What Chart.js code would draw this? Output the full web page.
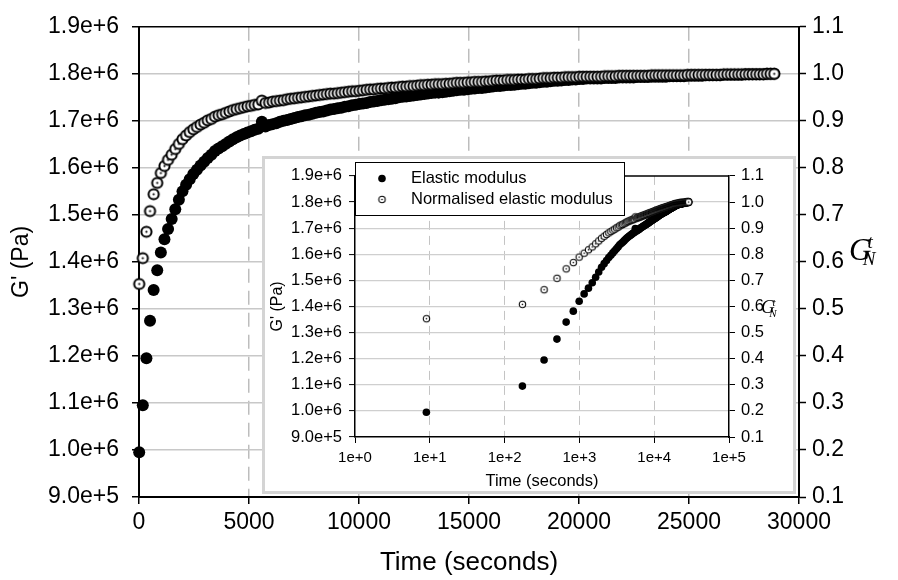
<!DOCTYPE html>
<html>
<head>
<meta charset="utf-8">
<script src="https://cdn.jsdelivr.net/npm/chart.js@4.4.1/dist/chart.umd.min.js"></script>
<style>
  body { margin: 0; background: #fff; }
  #wrap { position: relative; width: 898px; height: 580px; }
  #mainChart { position: absolute; left: 0; top: 0; }
  #insetBox { position: absolute; left: 262px; top: 156px; width: 528px; height: 332px;
              border: 3px solid #d4d4d4; background: #fff; }
  #insetChart { display: block; }
</style>
</head>
<body>
<div id="wrap">
  <canvas id="mainChart" width="898" height="580"></canvas>
  <div id="insetBox"><canvas id="insetChart" width="528" height="332"></canvas></div>
</div>
<script>
// Time of each measurement (seconds)
const timeSec = [
  9, 173, 337, 501, 665, 829, 993, 1157, 1321, 1485,
  1649, 1813, 1977, 2141, 2305, 2469, 2633, 2797, 2961, 3125,
  3289, 3453, 3617, 3781, 3945, 4109, 4273, 4437, 4601, 4765,
  4929, 5093, 5257, 5421, 5585, 5749, 5913, 6077, 6241, 6405,
  6569, 6733, 6897, 7061, 7225, 7389, 7553, 7717, 7881, 8045,
  8209, 8373, 8537, 8701, 8865, 9029, 9193, 9357, 9521, 9685,
  9849, 10013, 10177, 10341, 10505, 10669, 10833, 10997, 11161, 11325,
  11489, 11653, 11817, 11981, 12145, 12309, 12473, 12637, 12801, 12965,
  13129, 13293, 13457, 13621, 13785, 13949, 14113, 14277, 14441, 14605,
  14769, 14933, 15097, 15261, 15425, 15589, 15753, 15917, 16081, 16245,
  16409, 16573, 16737, 16901, 17065, 17229, 17393, 17557, 17721, 17885,
  18049, 18213, 18377, 18541, 18705, 18869, 19033, 19197, 19361, 19525,
  19689, 19853, 20017, 20181, 20345, 20509, 20673, 20837, 21001, 21165,
  21329, 21493, 21657, 21821, 21985, 22149, 22313, 22477, 22641, 22805,
  22969, 23133, 23297, 23461, 23625, 23789, 23953, 24117, 24281, 24445,
  24609, 24773, 24937, 25101, 25265, 25429, 25593, 25757, 25921, 26085,
  26249, 26413, 26577, 26741, 26905, 27069, 27233, 27397, 27561, 27725,
  27889, 28053, 28217, 28381, 28545, 28709, 28873
];

// G' in units of 1e6 Pa
const elasticMPa = [
  0.995, 1.095, 1.195, 1.275, 1.340, 1.382, 1.420, 1.448, 1.470, 1.491,
  1.512, 1.532, 1.550, 1.564, 1.576, 1.587, 1.596, 1.605, 1.613, 1.621,
  1.628, 1.636, 1.641, 1.646, 1.651, 1.656, 1.661, 1.665, 1.669, 1.672,
  1.675, 1.678, 1.681, 1.683, 1.698, 1.688, 1.691, 1.693, 1.695, 1.698,
  1.700, 1.702, 1.704, 1.706, 1.708, 1.710, 1.712, 1.713, 1.715, 1.717,
  1.719, 1.720, 1.722, 1.724, 1.725, 1.727, 1.728, 1.730, 1.731, 1.733,
  1.734, 1.736, 1.737, 1.738, 1.740, 1.741, 1.742, 1.744, 1.745, 1.746,
  1.747, 1.748, 1.750, 1.751, 1.752, 1.753, 1.754, 1.755, 1.756, 1.757,
  1.758, 1.759, 1.760, 1.760, 1.761, 1.762, 1.763, 1.764, 1.765, 1.766,
  1.766, 1.767, 1.768, 1.769, 1.770, 1.770, 1.771, 1.772, 1.773, 1.774,
  1.774, 1.775, 1.776, 1.776, 1.777, 1.778, 1.779, 1.779, 1.780, 1.781,
  1.781, 1.782, 1.783, 1.783, 1.784, 1.785, 1.785, 1.786, 1.787, 1.787,
  1.788, 1.788, 1.789, 1.789, 1.790, 1.790, 1.790, 1.790, 1.790, 1.791,
  1.791, 1.791, 1.791, 1.792, 1.792, 1.792, 1.792, 1.792, 1.793, 1.793,
  1.793, 1.793, 1.794, 1.794, 1.794, 1.794, 1.794, 1.795, 1.795, 1.795,
  1.795, 1.795, 1.796, 1.796, 1.796, 1.796, 1.796, 1.797, 1.797, 1.797,
  1.797, 1.797, 1.798, 1.798, 1.798, 1.798, 1.798, 1.798, 1.799, 1.799,
  1.799, 1.799, 1.799, 1.799, 1.800, 1.800, 1.800
];

// G'/G'final (right axis)
const normalised = [
  0.553, 0.608, 0.664, 0.708, 0.744, 0.768, 0.789, 0.804, 0.817, 0.828,
  0.840, 0.851, 0.861, 0.869, 0.876, 0.882, 0.887, 0.892, 0.896, 0.901,
  0.904, 0.909, 0.912, 0.914, 0.917, 0.920, 0.923, 0.925, 0.927, 0.929,
  0.931, 0.932, 0.934, 0.935, 0.943, 0.938, 0.939, 0.941, 0.942, 0.943,
  0.944, 0.946, 0.947, 0.948, 0.949, 0.950, 0.951, 0.952, 0.953, 0.954,
  0.955, 0.956, 0.957, 0.958, 0.958, 0.959, 0.960, 0.961, 0.962, 0.963,
  0.963, 0.964, 0.965, 0.966, 0.967, 0.967, 0.968, 0.969, 0.969, 0.970,
  0.971, 0.971, 0.972, 0.973, 0.973, 0.974, 0.974, 0.975, 0.976, 0.976,
  0.977, 0.977, 0.978, 0.978, 0.978, 0.979, 0.979, 0.980, 0.981, 0.981,
  0.981, 0.982, 0.982, 0.983, 0.983, 0.983, 0.984, 0.984, 0.985, 0.986,
  0.986, 0.986, 0.987, 0.987, 0.987, 0.988, 0.988, 0.988, 0.989, 0.989,
  0.989, 0.990, 0.991, 0.991, 0.991, 0.992, 0.992, 0.992, 0.993, 0.993,
  0.993, 0.993, 0.994, 0.994, 0.994, 0.994, 0.994, 0.994, 0.994, 0.995,
  0.995, 0.995, 0.995, 0.996, 0.996, 0.996, 0.996, 0.996, 0.996, 0.996,
  0.996, 0.996, 0.997, 0.997, 0.997, 0.997, 0.997, 0.997, 0.997, 0.997,
  0.997, 0.997, 0.998, 0.998, 0.998, 0.998, 0.998, 0.998, 0.998, 0.998,
  0.998, 0.998, 0.999, 0.999, 0.999, 0.999, 0.999, 0.999, 0.999, 0.999,
  0.999, 0.999, 0.999, 0.999, 1.000, 1.000, 1.000
];

const seriesLabels = ['Elastic modulus', 'Normalised elastic modulus'];
const insetTimeTicks = [1, 10, 100, 1000, 10000, 100000];

const FONT = '"Liberation Sans", Arial, sans-serif';
const SERIF = '"Liberation Serif", "Times New Roman", serif';

// open circle with a dot in the middle
function openMarker(r, lw, dotR) {
  const size = Math.ceil(2 * (r + lw)) + 2;
  const c = document.createElement('canvas');
  c.width = size; c.height = size;
  const g = c.getContext('2d');
  const m = size / 2;
  g.beginPath(); g.arc(m, m, r, 0, 2 * Math.PI);
  g.fillStyle = '#fff'; g.fill();
  g.lineWidth = lw; g.strokeStyle = '#000'; g.stroke();
  g.beginPath(); g.arc(m, m, dotR, 0, 2 * Math.PI);
  g.fillStyle = '#000'; g.fill();
  return c;
}

const elasticPts = timeSec.map((t, i) => ({ x: t, y: elasticMPa[i] }));
const normPts = timeSec.map((t, i) => ({ x: t, y: normalised[i] }));

// top edge of the plot frame
const topFrame = {
  id: 'topFrame',
  beforeDatasetsDraw(chart) {
    const a = chart.chartArea, ctx = chart.ctx;
    ctx.save();
    ctx.strokeStyle = '#000';
    ctx.lineWidth = 1.5;
    ctx.beginPath();
    ctx.moveTo(a.left, a.top);
    ctx.lineTo(a.right, a.top);
    ctx.stroke();
    ctx.restore();
  }
};

// right axis title G_N^t
function gntTitle(dx, dy, size) {
  return {
    id: 'gntTitle',
    afterDraw(chart) {
      const s = chart.scales.y2, ctx = chart.ctx;
      const x = s.left + dx;
      const y = s.getPixelForValue(0.6) + dy;
      const small = Math.round(size * 0.6);
      ctx.save();
      ctx.fillStyle = '#000';
      ctx.textAlign = 'left';
      ctx.textBaseline = 'alphabetic';
      ctx.font = 'italic ' + size + 'px ' + SERIF;
      ctx.fillText('G', x, y);
      ctx.font = 'italic ' + small + 'px ' + SERIF;
      ctx.fillText('t', x + size * 0.6, y - size * 0.38);
      ctx.fillText('N', x + size * 0.44, y + size * 0.17);
      ctx.restore();
    }
  };
}

function gridColor(edges, color) {
  return ctx => (edges.includes(ctx.tick && ctx.tick.value) ? 'rgba(0,0,0,0)' : color);
}

// ---------- main chart ----------
new Chart(document.getElementById('mainChart'), {
  type: 'scatter',
  data: {
    datasets: [
      { label: seriesLabels[0], data: elasticPts, yAxisID: 'y', pointStyle: 'circle',
        pointRadius: 6, backgroundColor: '#000', borderWidth: 0, order: 1, clip: false },
      { label: seriesLabels[1], data: normPts, yAxisID: 'y2', pointStyle: openMarker(5.1, 2, 1.1),
        pointRadius: 6, order: 0, clip: false }
    ]
  },
  options: {
    responsive: false,
    animation: false,
    events: [],
    layout: { padding: { top: 23, left: 0, right: 0, bottom: 0 } },
    plugins: { legend: { display: false }, tooltip: { enabled: false } },
    scales: {
      x: {
        type: 'linear', min: 0, max: 30000,
        afterFit: s => { s.height = 83; },
        ticks: { stepSize: 5000, autoSkip: false, maxRotation: 0, padding: 5, color: '#000',
                 font: { family: FONT, size: 23 }, callback: v => String(v) },
        grid: { color: gridColor([0, 30000], '#bdbdbd'), lineWidth: 1.5, tickLength: 7,
                tickColor: '#000', tickWidth: 1.5 },
        border: { color: '#000', width: 2, dash: [14, 8] },
        title: { display: true, text: 'Time (seconds)', color: '#000',
                 font: { family: FONT, size: 26 }, padding: { top: 0, bottom: 2 } }
      },
      y: {
        position: 'left', min: 0.9, max: 1.9,
        afterFit: s => { s.width = 139; },
        ticks: { stepSize: 0.1, autoSkip: false, padding: 13, color: '#000',
                 font: { family: FONT, size: 23 }, callback: v => (v * 1e6).toExponential(1) },
        grid: { color: gridColor([0.9, 1.9], '#c8c8c8'), lineWidth: 1.5, tickLength: 7,
                tickColor: '#000', tickWidth: 1.5 },
        border: { color: '#000', width: 2 },
        title: { display: true, text: "G' (Pa)", color: '#000',
                 font: { family: FONT, size: 23 }, padding: { top: 8, bottom: 0 } }
      },
      y2: {
        position: 'right', min: 0.1, max: 1.1,
        afterFit: s => { s.width = 99; },
        ticks: { stepSize: 0.1, autoSkip: false, padding: 6, color: '#000',
                 font: { family: FONT, size: 23 }, callback: v => v.toFixed(1) },
        grid: { drawOnChartArea: false, tickLength: 7, tickColor: '#000', tickWidth: 1.5 },
        border: { color: '#000', width: 2 }
      }
    }
  },
  plugins: [topFrame, gntTitle(50, -2, 31)]
});

// ---------- inset legend ----------
const insetLegend = {
  id: 'insetLegend',
  afterDatasetsDraw(chart) {
    const ctx = chart.ctx;
    const left = chart.chartArea.left;
    const top = 3, w = 269, h = 53;
    ctx.save();
    ctx.fillStyle = '#fff';
    ctx.fillRect(left, top, w, h);
    ctx.strokeStyle = '#000';
    ctx.lineWidth = 1;
    ctx.strokeRect(left + 0.5, top + 0.5, w, h);
    const rows = [top + 16.5, top + 37.5];
    ctx.beginPath();
    ctx.arc(left + 27, rows[0], 3.8, 0, 2 * Math.PI);
    ctx.fillStyle = '#000';
    ctx.fill();
    const m = chart.data.datasets[1].pointStyle;
    ctx.drawImage(m, left + 27 - m.width / 2, rows[1] - m.height / 2);
    ctx.font = '16.5px ' + FONT;
    ctx.textBaseline = 'middle';
    ctx.fillStyle = '#000';
    chart.data.datasets.forEach((d, i) => ctx.fillText(d.label, left + 56, rows[i]));
    ctx.restore();
  }
};

// ---------- inset chart ----------
new Chart(document.getElementById('insetChart'), {
  type: 'scatter',
  data: {
    datasets: [
      { label: seriesLabels[0], data: elasticPts, yAxisID: 'y', pointStyle: 'circle',
        pointRadius: 3.8, backgroundColor: '#000', borderWidth: 0, order: 1, clip: false },
      { label: seriesLabels[1], data: normPts, yAxisID: 'y2', pointStyle: openMarker(3.2, 1.1, 0.8),
        pointRadius: 4, order: 0, clip: false }
    ]
  },
  options: {
    responsive: false,
    animation: false,
    events: [],
    layout: { padding: { top: 8, left: 0, right: 0, bottom: 0 } },
    plugins: { legend: { display: false }, tooltip: { enabled: false } },
    scales: {
      x: {
        type: 'logarithmic', min: 1, max: 100000,
        afterFit: s => { s.height = 54; },
        afterBuildTicks: s => { s.ticks = insetTimeTicks.map(v => ({ value: v })); },
        ticks: { autoSkip: false, maxRotation: 0, padding: 6, color: '#000',
                 font: { family: FONT, size: 15 }, callback: v => Number(v).toExponential(0) },
        grid: { color: gridColor([1, 100000], '#c4c4c4'), lineWidth: 1, tickLength: 6,
                tickColor: '#000', tickWidth: 1 },
        border: { color: '#000', width: 1.5, dash: [9, 6] },
        title: { display: true, text: 'Time (seconds)', color: '#000',
                 font: { family: FONT, size: 16.5 }, padding: { top: 0, bottom: 0 } }
      },
      y: {
        position: 'left', min: 0.9, max: 1.9,
        afterFit: s => { s.width = 90; },
        ticks: { stepSize: 0.1, autoSkip: false, padding: 7, color: '#000',
                 font: { family: FONT, size: 16.5 }, callback: v => (v * 1e6).toExponential(1) },
        grid: { color: gridColor([0.9, 1.9], '#cfcfcf'), lineWidth: 1.2, tickLength: 6,
                tickColor: '#000', tickWidth: 1 },
        border: { color: '#000', width: 1.5 },
        title: { display: true, text: "G' (Pa)", color: '#000',
                 font: { family: FONT, size: 16 }, padding: { top: 3, bottom: 0 } }
      },
      y2: {
        position: 'right', min: 0.1, max: 1.1,
        afterFit: s => { s.width = 64; },
        ticks: { stepSize: 0.1, autoSkip: false, padding: 6, color: '#000',
                 font: { family: FONT, size: 16.5 }, callback: v => v.toFixed(1) },
        grid: { drawOnChartArea: false, tickLength: 6, tickColor: '#000', tickWidth: 1 },
        border: { color: '#000', width: 1.5 }
      }
    }
  },
  plugins: [topFrame, insetLegend, gntTitle(32, 7, 19)]
});
</script>
</body>
</html>
